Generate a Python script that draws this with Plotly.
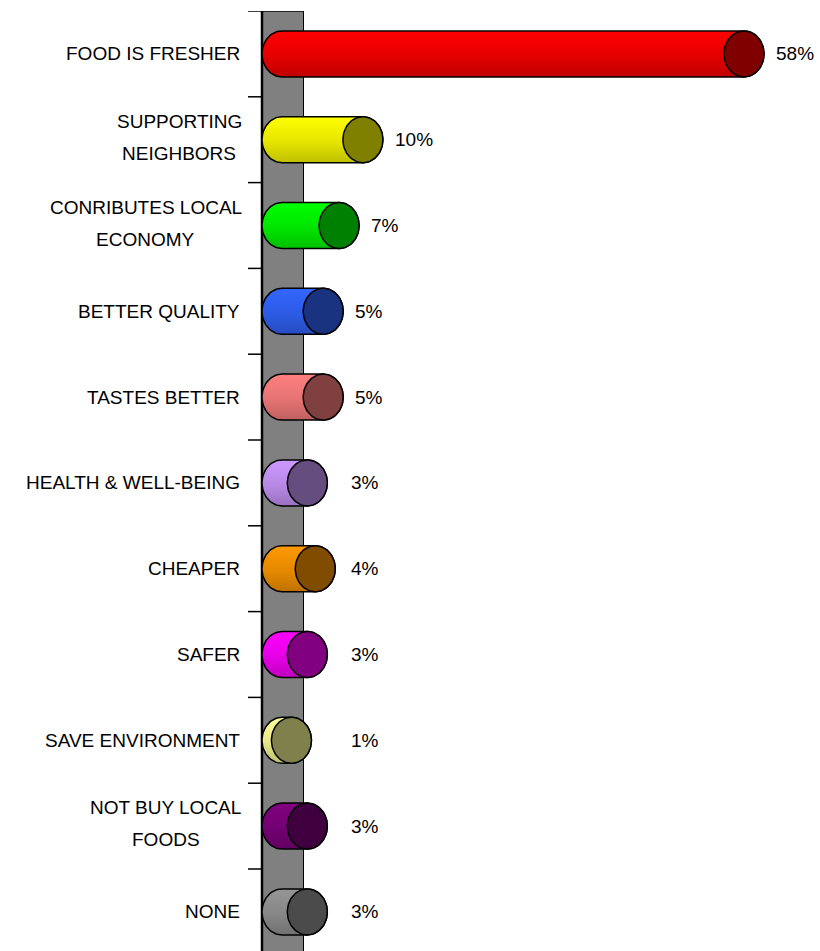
import numpy as np
import plotly.graph_objects as go

# ---- data -------------------------------------------------------------
categories = [
    ["FOOD IS FRESHER"],
    ["SUPPORTING", "NEIGHBORS"],
    ["CONRIBUTES LOCAL", "ECONOMY"],
    ["BETTER QUALITY"],
    ["TASTES BETTER"],
    ["HEALTH & WELL-BEING"],
    ["CHEAPER"],
    ["SAFER"],
    ["SAVE ENVIRONMENT"],
    ["NOT BUY LOCAL", "FOODS"],
    ["NONE"],
]
values = [58, 10, 7, 5, 5, 3, 4, 3, 1, 3, 3]

# body colour (lit side) and end-cap colour per cylinder
body_colors = ["#FF0000", "#FFFF00", "#00FF00", "#3366FF", "#FF8080", "#CC99FF",
               "#FF9900", "#FF00FF", "#FFFF99", "#800080", "#969696"]
cap_colors = ["#800000", "#808000", "#008000", "#1A3380", "#804040", "#664D80",
              "#804D00", "#800080", "#80804D", "#400040", "#4B4B4B"]

# ---- geometry -----------------------------------------------------------
W, H = 820, 951
TOP = 11                 # top margin in px
PX_X = 7.94              # px per percentage point
PX_ROW = 85.8            # px per category row
ZERO_PX = 303.5          # px position of 0 %

x_range = [-ZERO_PX / PX_X, (W - ZERO_PX) / PX_X]
y_bottom = -0.5 + (H - TOP) / PX_ROW
y_range = [y_bottom, -0.5]          # reversed: first category on top

rx = 20 / PX_X           # ellipse half width (x units)
hh = 23 / PX_ROW         # cylinder half height (y units)
wall_left = -41.5 / PX_X # depth wall spans wall_left .. 0
tick_left = -55.5 / PX_X
label_right_px = -61.5   # right edge of category text, px from 0 %
FONT = "Liberation Sans, Arial, sans-serif"
FS = 19
LINE_GAP = 32            # px between the two lines of a wrapped label

# Arial advance widths (1/1000 em) for the glyphs used in the labels
ARIAL_W = {" ": 278, "&": 667, "-": 333,
           "A": 667, "B": 667, "C": 722, "D": 722, "E": 667, "F": 611, "G": 778,
           "H": 722, "I": 278, "J": 500, "K": 667, "L": 556, "M": 833, "N": 722,
           "O": 778, "P": 667, "Q": 778, "R": 722, "S": 667, "T": 611, "U": 722,
           "V": 667, "W": 944, "X": 667, "Y": 667, "Z": 611}


def text_width(s, size):
    return sum(ARIAL_W.get(c, 600) for c in s) * size / 1000.0


def darker(hex_color, f):
    h = hex_color.lstrip("#")
    r, g, b = (int(h[i:i + 2], 16) for i in (0, 2, 4))
    return "#%02X%02X%02X" % (int(r * f), int(g * f), int(b * f))


fig = go.Figure()

# ---- cylinders ----------------------------------------------------------
t_front = np.linspace(-np.pi / 2, np.pi / 2, 40)
t_back = np.linspace(np.pi / 2, 3 * np.pi / 2, 40)
t_full = np.linspace(0, 2 * np.pi, 80)

for i, v in enumerate(values):
    yc = i
    xb = wall_left + rx          # back face centre
    xf = v - rx                  # front face centre
    bx = np.concatenate([xf + rx * np.cos(t_front), xb + rx * np.cos(t_back)])
    by = np.concatenate([yc + hh * np.sin(t_front), yc + hh * np.sin(t_back)])
    bx = np.append(bx, bx[0])
    by = np.append(by, by[0])
    top_c = body_colors[i]
    fig.add_trace(go.Scatter(
        x=bx, y=by, mode="lines", fill="toself",
        line=dict(color="black", width=1.5),
        fillgradient=dict(type="vertical", start=yc - hh, stop=yc + hh,
                          colorscale=[[0, top_c], [0.55, darker(top_c, 0.9)],
                                      [1, darker(top_c, 0.75)]]),
        hoverinfo="skip", showlegend=False))
    cx = xf + rx * np.cos(t_full)
    cy = yc + hh * np.sin(t_full)
    fig.add_trace(go.Scatter(
        x=cx, y=cy, mode="lines", fill="toself",
        fillcolor=cap_colors[i], line=dict(color="black", width=1.5),
        hoverinfo="skip", showlegend=False))

# ---- depth wall and ticks ----------------------------------------------
shapes = [
    dict(type="rect", xref="x", yref="y", x0=wall_left, x1=0, y0=-0.5, y1=y_bottom + 1,
         fillcolor="#808080", line=dict(width=0), layer="below"),
    dict(type="line", xref="x", yref="y", x0=wall_left, x1=wall_left, y0=-0.5, y1=y_bottom + 1,
         line=dict(color="black", width=2.5), layer="below"),
    dict(type="line", xref="x", yref="y", x0=0, x1=0, y0=-0.5, y1=y_bottom + 1,
         line=dict(color="black", width=1), layer="below"),
    dict(type="line", xref="x", yref="y", x0=tick_left, x1=0, y0=-0.5, y1=-0.5,
         line=dict(color="black", width=1.5), layer="below"),
]
for k in range(1, len(values) + 1):
    shapes.append(dict(type="line", xref="x", yref="y", x0=tick_left, x1=wall_left,
                       y0=k - 0.5, y1=k - 0.5, line=dict(color="black", width=1.5),
                       layer="below"))

# ---- text ----------------------------------------------------------------
annotations = []
font = dict(family=FONT, size=FS, color="black")
for i, lines in enumerate(categories):
    if len(lines) == 1:
        annotations.append(dict(x=label_right_px / PX_X, y=i, xref="x", yref="y",
                                text=lines[0], xanchor="right", yanchor="middle",
                                showarrow=False, font=font))
    else:
        # wrapped label: lines centred on each other, block right-aligned
        block_w = max(text_width(s, FS) for s in lines)
        centre_x = (label_right_px - block_w / 2) / PX_X
        n = len(lines)
        for j, s in enumerate(lines):
            shift = ((n - 1) / 2 - j) * LINE_GAP + 2.5
            annotations.append(dict(x=centre_x, y=i, xref="x", yref="y", text=s,
                                    xanchor="center", yanchor="middle", yshift=shift,
                                    showarrow=False, font=font))

for i, v in enumerate(values):
    annotations.append(dict(x=max(v + 10 / PX_X, 45 / PX_X), y=i, xref="x", yref="y",
                            text=f"{v}%", xanchor="left", yanchor="middle",
                            showarrow=False, font=font))

fig.update_layout(
    width=W, height=H,
    margin=dict(l=0, r=0, t=TOP, b=0),
    paper_bgcolor="white", plot_bgcolor="white",
    xaxis=dict(range=x_range, visible=False, fixedrange=True),
    yaxis=dict(range=y_range, visible=False, fixedrange=True),
    shapes=shapes, annotations=annotations,
    showlegend=False,
)

fig.write_html("out.html")
